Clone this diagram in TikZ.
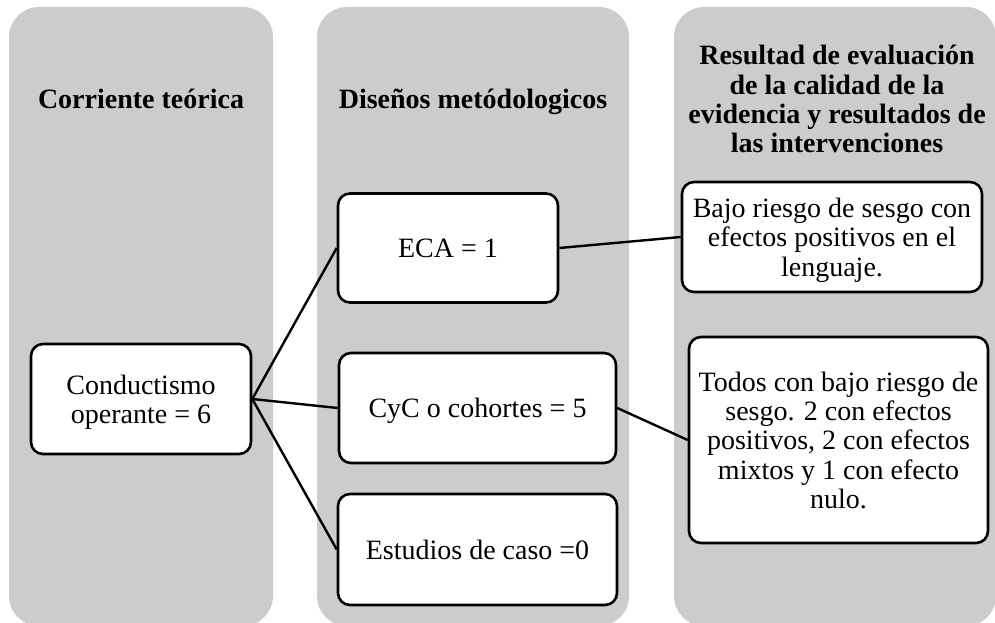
\documentclass[tikz,border=0pt]{standalone}
\usepackage{fontspec}
\setmainfont{Liberation Serif}
\definecolor{panelgray}{RGB}{204,204,204}
\begin{document}
\begin{tikzpicture}[x=1pt,y=-1pt,
  panel/.style={fill=panelgray, draw=none, rounded corners=30pt},
  box/.style={draw=black, line width=2.6pt, fill=white, rounded corners=12pt,
    align=center, inner sep=0pt, text depth=0pt, font=\fontsize{28}{29.3}\selectfont},
  head/.style={font=\fontsize{28}{29.3}\selectfont\bfseries, align=center, inner sep=0pt},
  link/.style={line width=2.4pt}]
\clip (0,0) rectangle (995,623);
% panels
\fill[panel] (9,7) rectangle (273,626);
\fill[panel] (317,7) rectangle (629,626);
\fill[panel] (674,7) rectangle (996,626);
% headings
\node[head, anchor=base] (h1) at (141,109) {Corriente teórica};
\node[head, anchor=base] (h2) at (473,109) {Diseños metódologicos};
\node[head, text depth=0pt, anchor=south] (h3) at (837,153) {Resultad de evaluación\\de la calidad de la\\evidencia y resultados de\\las intervenciones};
% boxes
\node[box, minimum width=220pt, minimum height=110pt] (cond) at (141,399) {Conductismo\\operante = 6};
\node[box, minimum width=220pt, minimum height=109pt] (eca) at (448,248) {ECA = 1};
\node[box, minimum width=277pt, minimum height=110pt] (cyc) at (477.5,408) {CyC o cohortes = 5};
\node[box, minimum width=279pt, minimum height=111pt] (est) at (477.5,549.5) {Estudios de caso =0};
\node[box, minimum width=300pt, minimum height=110pt] (bajo) at (832,237) {Bajo riesgo de sesgo con\\efectos positivos en el\\lenguaje.};
\node[box, minimum width=299pt, minimum height=206pt] (todos) at (838.5,440) {Todos con bajo riesgo de\\sesgo. 2 con efectos\\positivos, 2 con efectos\\mixtos y 1 con efecto\\nulo.};
% connectors
\draw[link] (cond.east) -- (eca.west);
\draw[link] (cond.east) -- (cyc.west);
\draw[link] (cond.east) -- (est.west);
\draw[link] (eca.east) -- (bajo.west);
\draw[link] (cyc.east) -- (todos.west);
\end{tikzpicture}
\end{document}
